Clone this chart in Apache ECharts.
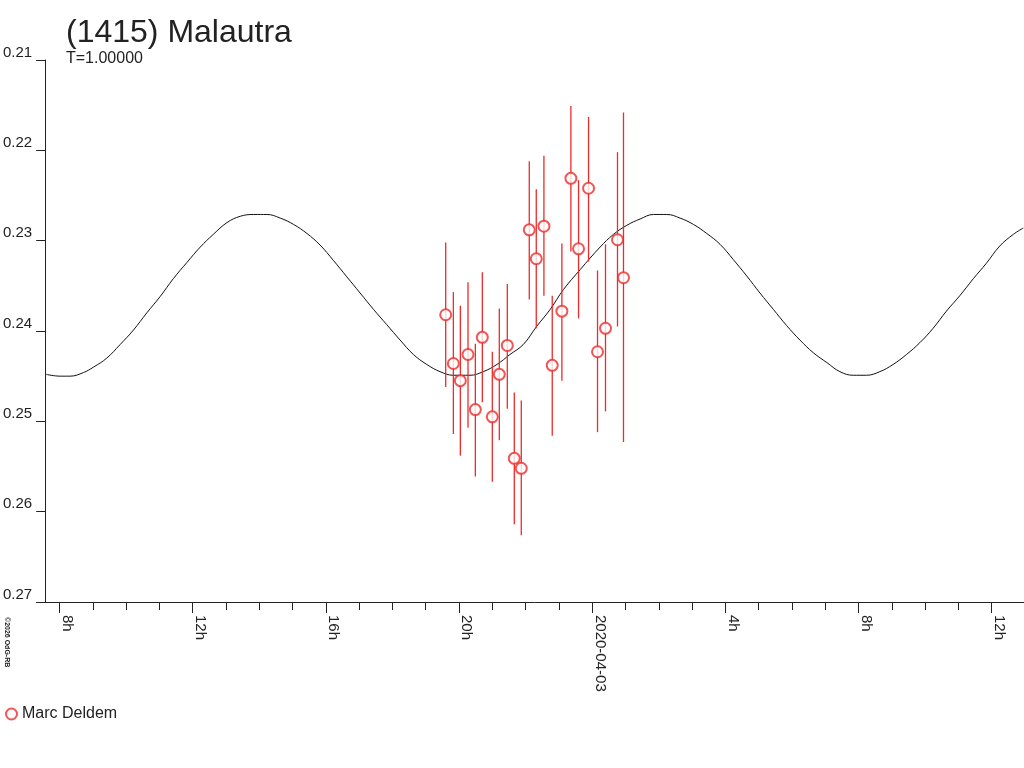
<!DOCTYPE html>
<html>
<head>
<meta charset="utf-8">
<title>(1415) Malautra</title>
<script src="https://cdn.jsdelivr.net/npm/echarts@6/dist/echarts.min.js"></script>
<style>
    html, body { margin: 0; padding: 0; background: #fff; }
    #chart { width: 1024px; height: 768px; }
</style>
</head>
<body>
<div id="chart"></div>
<script>
// hours counted from 2020-04-02 00:00
var obsHour = [19.60, 19.83, 20.04, 20.27, 20.49, 20.70, 21.00, 21.21, 21.45, 21.66, 21.87, 22.11,
    22.32, 22.55, 22.80, 23.09, 23.36, 23.59, 23.89, 24.16, 24.40, 24.76, 24.94];
var obsMag = [0.2382, 0.2436, 0.2455, 0.2426, 0.2487, 0.2407, 0.2495, 0.2448, 0.2416, 0.2541, 0.2552, 0.2288,
    0.2320, 0.2284, 0.2438, 0.2378, 0.2231, 0.2309, 0.2242, 0.2423, 0.2397, 0.2299, 0.2341];
var obsLow = [0.2302, 0.2357, 0.2372, 0.2346, 0.2414, 0.2335, 0.2423, 0.2375, 0.2348, 0.2468, 0.2477, 0.2212,
    0.2243, 0.2206, 0.2361, 0.2303, 0.2151, 0.2233, 0.2163, 0.2333, 0.2304, 0.2202, 0.2158];
var obsHigh = [0.2462, 0.2514, 0.2538, 0.2507, 0.2561, 0.2479, 0.2567, 0.2521, 0.2486, 0.2614, 0.2626, 0.2365,
    0.2397, 0.2361, 0.2516, 0.2455, 0.2312, 0.2386, 0.2323, 0.2512, 0.2489, 0.2395, 0.2523];

// fitted light curve
var fitHour = [7.60, 8.02, 8.32, 8.72, 9.02, 9.42, 9.82, 10.22, 10.62, 11.02, 11.42, 11.83, 12.23, 12.62,
    13.03, 13.43, 13.83, 14.23, 14.63, 15.03, 15.43, 15.83, 16.23, 16.63, 17.03, 17.43, 17.83, 18.23,
    18.63, 19.03, 19.43, 19.83, 20.33, 20.73, 21.14, 21.53, 21.93, 22.33, 22.74, 23.14, 23.64, 24.24,
    24.64, 25.04, 25.44, 25.84, 26.24, 26.64, 27.04, 27.44, 27.84, 28.24, 28.64, 29.04, 29.44, 29.84,
    30.24, 30.64, 31.05, 31.44, 31.84, 32.24, 32.64, 33.04, 33.44, 33.84, 34.24, 34.64, 35.04, 35.45,
    35.84, 36.24, 36.65, 36.95];
var fitMag = [0.2448, 0.2450, 0.2450, 0.2446, 0.2440, 0.2430, 0.2415, 0.2399, 0.2380, 0.2362, 0.2342, 0.2324,
    0.2307, 0.2293, 0.2280, 0.2273, 0.2271, 0.2271, 0.2275, 0.2282, 0.2292, 0.2305, 0.2322, 0.2340,
    0.2358, 0.2376, 0.2393, 0.2410, 0.2426, 0.2437, 0.2445, 0.2449, 0.2449, 0.2445, 0.2437, 0.2426,
    0.2415, 0.2395, 0.2376, 0.2354, 0.2332, 0.2307, 0.2293, 0.2283, 0.2276, 0.2271, 0.2271, 0.2275,
    0.2282, 0.2292, 0.2304, 0.2321, 0.2339, 0.2358, 0.2376, 0.2394, 0.2410, 0.2424, 0.2435, 0.2445,
    0.2449, 0.2449, 0.2445, 0.2437, 0.2426, 0.2413, 0.2397, 0.2378, 0.2361, 0.2342, 0.2325, 0.2306,
    0.2293, 0.2286];

var majorHours = [8, 12, 16, 20, 24, 28, 32, 36];
var minorHours = [];
for (var h = 8; h <= 36; h++) {
    minorHours.push(h);
}

var chart = echarts.init(document.getElementById('chart'));

var points = [];
var bars = [];
var fit = [];
for (var i = 0; i < obsHour.length; i++) {
    points.push([obsHour[i], obsMag[i]]);
    bars.push([obsHour[i], obsLow[i], obsHigh[i]]);
}
for (var j = 0; j < fitHour.length; j++) {
    fit.push([fitHour[j], fitMag[j]]);
}

var ink = '#222';
var red = '#ee2a2a';
var font = 'Liberation Sans, Arial, sans-serif';

chart.setOption({
    animation: false,
    title: {
        text: '(1415) Malautra',
        subtext: 'T=1.00000',
        left: 61,
        top: 12,
        itemGap: 2,
        textStyle: { fontFamily: font, fontSize: 32, fontWeight: 'normal', color: ink },
        subtextStyle: { fontFamily: font, fontSize: 16, color: ink }
    },
    legend: {
        left: 0,
        top: 701,
        itemWidth: 11,
        itemHeight: 11,
        textStyle: { fontFamily: font, fontSize: 16, color: ink },
        data: [{ name: 'Marc Deldem', icon: 'emptyCircle' }]
    },
    graphic: [{
        type: 'text',
        x: 10,
        y: 617,
        rotation: -Math.PI / 2,
        style: { text: '©2026 OdG-RB', fontSize: 7, fontWeight: 'bold', fontFamily: font, fill: ink }
    }],
    grid: { left: 45, top: 60, right: 0, bottom: 166 },
    xAxis: [{
        type: 'value',
        min: 7.57,
        max: 36.97,
        axisLine: { lineStyle: { color: ink } },
        axisTick: { customValues: majorHours, length: 11, lineStyle: { color: ink } },
        axisLabel: {
            customValues: majorHours,
            rotate: -90,
            margin: 13,
            verticalAlign: 'bottom',
            fontFamily: font,
            fontSize: 15,
            color: ink,
            formatter: function(v) {
                if (v === 24) return '2020-04-03';
                return (v % 24) + 'h';
            }
        },
        splitLine: { show: false }
    }, {
        type: 'value',
        position: 'bottom',
        min: 7.57,
        max: 36.97,
        axisLine: { show: false },
        axisTick: { customValues: minorHours, length: 8, lineStyle: { color: ink } },
        axisLabel: { show: false },
        splitLine: { show: false }
    }],
    yAxis: {
        type: 'value',
        inverse: true,
        min: 0.21,
        max: 0.27,
        interval: 0.01,
        axisLine: { show: true, lineStyle: { color: ink } },
        axisTick: { show: true, length: 9, lineStyle: { color: ink } },
        axisLabel: {
            margin: 13,
            verticalAlign: 'bottom',
            fontFamily: font,
            fontSize: 15,
            color: ink,
            formatter: function(v) { return v.toFixed(2); }
        },
        splitLine: { show: false }
    },
    series: [{
        name: 'fit',
        type: 'line',
        data: fit,
        smooth: 0.4,
        showSymbol: false,
        silent: true,
        lineStyle: { color: '#111', width: 1 },
        z: 1
    }, {
        name: 'errors',
        type: 'custom',
        data: bars,
        z: 2,
        renderItem: function(params, api) {
            var top = api.coord([api.value(0), api.value(1)]);
            var bot = api.coord([api.value(0), api.value(2)]);
            return {
                type: 'line',
                shape: { x1: top[0], y1: top[1], x2: bot[0], y2: bot[1] },
                style: { stroke: red, lineWidth: 1.3 }
            };
        }
    }, {
        name: 'Marc Deldem',
        type: 'scatter',
        data: points,
        symbol: 'emptyCircle',
        symbolSize: 11,
        itemStyle: { color: red, borderColor: red, borderWidth: 1.1 },
        z: 3
    }]
});
</script>
</body>
</html>
